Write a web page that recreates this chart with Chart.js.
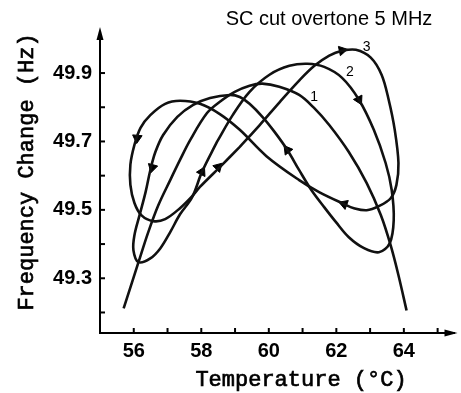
<!DOCTYPE html>
<html><head><meta charset="utf-8">
<script src="https://cdn.jsdelivr.net/npm/chart.js@4.4.1/dist/chart.umd.min.js"></script>
<style>html,body{margin:0;padding:0;background:#fff}canvas{display:block}</style>
</head><body>
<canvas id="c" width="461" height="393"></canvas>
<script>
// ---- tick values / labels ----
const xTicks = [56,57,58,59,60,61,62,63,64,65];
const xTickLabels = ['56','','58','','60','','62','','64',''];
const yTicks = [49.2,49.3,49.4,49.5,49.6,49.7,49.8,49.9];
const yTickLabels = ['','49.3','','49.5','','49.7','','49.9'];

// ---- curve 1 (open curve) ----
const curve1T = [55.70,56.14,56.43,56.73,57.08,57.37,57.67,58.17,58.55,58.99,59.43,59.81,60.31,60.90,61.34,61.79,62.37,62.90,63.32,63.61,63.84,64.08];
const curve1F = [49.212,49.347,49.435,49.514,49.587,49.646,49.704,49.783,49.816,49.845,49.863,49.869,49.860,49.836,49.798,49.748,49.669,49.578,49.484,49.396,49.309,49.206];

// ---- loop 2 (closed) ----
const loop2T = [58.46,58.93,59.43,60.02,60.61,61.14,61.64,62.17,62.67,63.11,63.46,63.64,63.70,63.58,63.26,62.82,62.37,61.99,61.64,61.26,60.90,60.55,60.17,59.81,59.43,59.14,58.84,58.26,57.76,57.29,56.87,56.64,56.49,56.35,56.17,56.02,55.99,56.14,56.49,56.79,57.08,57.37,57.73,58.02,58.46];
const loop2F = [49.698,49.777,49.845,49.895,49.921,49.927,49.918,49.886,49.822,49.734,49.637,49.558,49.470,49.402,49.376,49.388,49.420,49.464,49.508,49.558,49.616,49.675,49.728,49.772,49.810,49.830,49.836,49.827,49.807,49.772,49.719,49.669,49.616,49.552,49.484,49.426,49.382,49.347,49.358,49.388,49.435,49.487,49.537,49.611,49.698];

// ---- loop 3 (closed) ----
const loop3T = [59.14,59.73,60.33,60.92,61.35,61.79,62.17,62.58,63.02,63.34,63.55,63.73,63.84,63.78,63.61,63.26,62.90,62.52,62.23,61.49,60.90,59.93,59.14,58.55,57.96,57.37,56.93,56.49,56.20,56.02,55.90,55.90,56.02,56.23,56.58,56.93,57.37,57.73,57.96,58.55,59.14];
const loop3F = [49.684,49.748,49.816,49.880,49.921,49.951,49.965,49.968,49.945,49.895,49.822,49.734,49.637,49.573,49.534,49.511,49.499,49.505,49.517,49.552,49.587,49.657,49.734,49.780,49.810,49.819,49.810,49.777,49.740,49.690,49.632,49.573,49.520,49.484,49.467,49.473,49.505,49.540,49.567,49.625,49.684];

// ---- direction arrows on the loops ----
const arrowT = [56.10,56.55,58.02,58.50,60.55,62.17,62.67,62.23];
const arrowF = [49.710,49.624,49.611,49.625,49.675,49.966,49.822,49.517];
const arrowRot = [185,195,27,45,323,78,153,290];

// ---- curve labels ----
const curveLabels = ['1','2','3'];
const curveLabelT = [61.34,62.40,62.90];
const curveLabelF = [49.830,49.904,49.977];

const toPts = (xs, ys) => xs.map((v, i) => ({x: v, y: ys[i]}));
const lineDs = (label, xs, ys) => ({
  label, data: toPts(xs, ys), showLine: true, borderColor: '#111', borderWidth: 2.6,
  pointRadius: 0, tension: 0.35, fill: false
});

const decor = {
  id: 'decor',
  afterDraw(chart) {
    const {ctx, chartArea: a, scales: {x, y}} = chart;
    ctx.save();
    ctx.strokeStyle = '#000'; ctx.fillStyle = '#000'; ctx.lineWidth = 2;
    x.ticks.forEach(t => { const px = x.getPixelForValue(t.value); ctx.beginPath(); ctx.moveTo(px, a.bottom); ctx.lineTo(px, a.bottom - 5); ctx.stroke(); });
    y.ticks.forEach(t => { const py = y.getPixelForValue(t.value); ctx.beginPath(); ctx.moveTo(a.left, py); ctx.lineTo(a.left + 5, py); ctx.stroke(); });
    // axis arrow heads
    ctx.beginPath(); ctx.moveTo(a.left, a.top - 5); ctx.lineTo(a.left - 3.5, a.top + 8); ctx.lineTo(a.left + 3.5, a.top + 8); ctx.closePath(); ctx.fill();
    ctx.beginPath(); ctx.moveTo(a.right + 3, a.bottom); ctx.lineTo(a.right - 10, a.bottom - 3.5); ctx.lineTo(a.right - 10, a.bottom + 3.5); ctx.closePath(); ctx.fill();
    // curve labels
    ctx.font = '14px "Liberation Sans"'; ctx.textAlign = 'center'; ctx.textBaseline = 'middle';
    curveLabels.forEach((s, i) => ctx.fillText(s, x.getPixelForValue(curveLabelT[i]), y.getPixelForValue(curveLabelF[i])));
    // chart title
    ctx.font = '20px "Liberation Sans"'; ctx.textAlign = 'center'; ctx.textBaseline = 'alphabetic';
    ctx.fillText('SC cut overtone 5 MHz', 329, 25);
    // axis titles (regular mono, slightly thickened)
    ctx.font = '22px "Liberation Mono"'; ctx.textBaseline = 'middle'; ctx.lineWidth = 0.7;
    ctx.fillText('Temperature (°C)', 301, 380);
    ctx.strokeText('Temperature (°C)', 301, 380);
    ctx.translate(27, 172); ctx.rotate(-Math.PI / 2);
    ctx.fillText('Frequency Change (Hz)', 0, 0);
    ctx.strokeText('Frequency Change (Hz)', 0, 0);
    ctx.restore();
  }
};

new Chart(document.getElementById('c'), {
  type: 'scatter',
  data: {
    datasets: [
      lineDs('1', curve1T, curve1F),
      lineDs('2', loop2T, loop2F),
      lineDs('3', loop3T, loop3F),
      { label: 'arrows', data: toPts(arrowT, arrowF), showLine: false, pointStyle: 'triangle',
        pointRadius: 5.5, pointRotation: arrowRot, backgroundColor: '#000', borderColor: '#000', borderWidth: 1 }
    ]
  },
  options: {
    responsive: false, animation: false, devicePixelRatio: 1,
    layout: { padding: { top: 32, right: 4, left: 0, bottom: 0 } },
    plugins: { legend: { display: false }, tooltip: { enabled: false } },
    scales: {
      x: {
        type: 'linear', min: 55, max: 65.5,
        grid: { display: false, drawTicks: false },
        border: { display: true, color: '#000', width: 2 },
        afterBuildTicks: s => { s.ticks = xTicks.map(v => ({ value: v })); },
        afterFit: s => { s.height = 60; },
        ticks: { autoSkip: false, maxRotation: 0, padding: 6, color: '#000',
          font: { family: '"Liberation Sans"', size: 20, weight: 'bold' },
          callback: (v, i) => xTickLabels[i] }
      },
      y: {
        type: 'linear', min: 49.14, max: 50.02,
        grid: { display: false, drawTicks: false },
        border: { display: true, color: '#000', width: 2 },
        afterBuildTicks: s => { s.ticks = yTicks.map(v => ({ value: v })); },
        afterFit: s => { s.width = 100; },
        ticks: { autoSkip: false, padding: 8, color: '#000',
          font: { family: '"Liberation Sans"', size: 20, weight: 'bold' },
          callback: (v, i) => yTickLabels[i] }
      }
    }
  },
  plugins: [decor]
});
</script>
</body></html>
